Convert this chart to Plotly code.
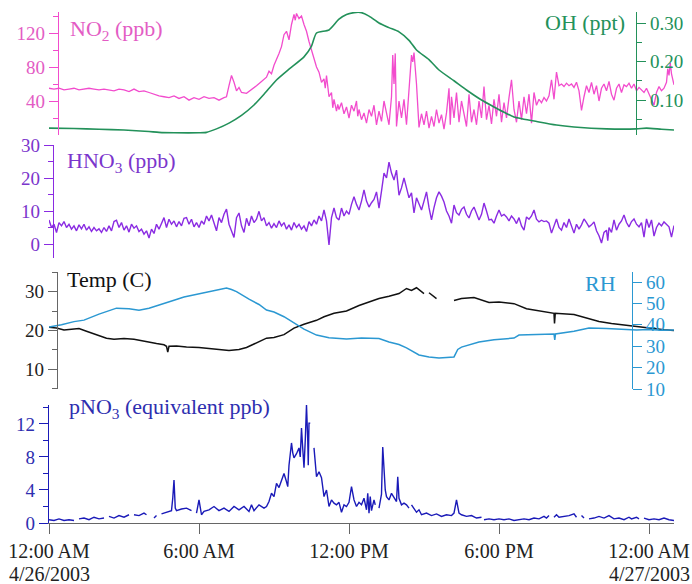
import plotly.graph_objects as go

# ---------------------------------------------------------------------------
# Measurements, 26 Apr 2003 00:00 to 27 Apr 2003 01:00 (x in hours since midnight)
# ---------------------------------------------------------------------------
no2_hours = [0.0, 0.2, 0.4, 0.6, 0.8, 1.0, 1.2, 1.4, 1.6, 1.8, 2.0, 2.2, 2.4, 2.6, 2.8, 3.0,
             3.2, 3.4, 3.6, 3.8, 4.0, 4.2, 4.4, 4.6, 4.8, 5.0, 5.2, 5.4, 5.6, 5.8, 6.0, 6.2,
             6.4, 6.6, 6.8, 7.0, 7.1, 7.2, 7.3, 7.4, 7.5, 7.6, 7.7, 7.9, 8.1, 8.3, 8.5, 8.7,
             8.8, 8.9, 9.0, 9.1, 9.2, 9.3, 9.4, 9.5, 9.6, 9.7, 9.8, 9.85, 9.9, 10.0, 10.1,
             10.2, 10.3, 10.4, 10.5, 10.6, 10.7, 10.8, 10.9, 11.0, 11.05, 11.1, 11.2, 11.3,
             11.35, 11.4, 11.5, 11.55, 11.6, 11.7, 11.8, 11.9, 12.0, 12.1, 12.2, 12.3, 12.35,
             12.4, 12.5, 12.6, 12.7, 12.8, 12.9, 13.0, 13.1, 13.2, 13.3, 13.4, 13.5, 13.6,
             13.7, 13.75, 13.8, 13.85, 13.9, 14.0, 14.1, 14.2, 14.3, 14.4, 14.5, 14.55, 14.6,
             14.7, 14.8, 14.9, 15.0, 15.1, 15.2, 15.3, 15.4, 15.5, 15.6, 15.7, 15.8, 15.9,
             16.0, 16.05, 16.1, 16.2, 16.3, 16.4, 16.5, 16.6, 16.7, 16.8, 16.9, 17.0, 17.1,
             17.2, 17.3, 17.4, 17.5, 17.6, 17.7, 17.8, 17.9, 18.0, 18.1, 18.2, 18.3, 18.4,
             18.5, 18.6, 18.7, 18.8, 18.9, 19.0, 19.1, 19.2, 19.3, 19.4, 19.5, 19.6, 19.7,
             19.8, 19.9, 20.0, 20.1, 20.2, 20.3, 20.4, 20.5, 20.6, 20.7, 20.8, 20.9, 21.0,
             21.1, 21.2, 21.3, 21.4, 21.5, 21.6, 21.7, 21.8, 21.9, 22.0, 22.1, 22.2, 22.3,
             22.4, 22.5, 22.6, 22.7, 22.8, 22.9, 23.0, 23.1, 23.2, 23.3, 23.4, 23.5, 23.6,
             23.7, 23.8, 23.9, 24.0, 24.1, 24.2, 24.3, 24.4, 24.5, 24.6, 24.7, 24.75, 24.8,
             24.85, 24.9, 24.95, 25.0]
no2_ppb = [55, 54, 55, 53, 54, 55, 53, 54, 55, 54, 53, 54, 53, 52, 54, 53,
           51, 54, 51, 52, 50, 48, 46, 45, 44, 46, 43, 45, 41, 44, 42, 45,
           43, 44, 41, 44, 45, 58, 70, 62, 52, 56, 50, 49, 53, 58, 63, 68,
           75, 72, 82, 88, 96, 104, 118, 122, 112, 130, 142, 135, 143, 137, 140,
           130, 122, 110, 100, 88, 80, 74, 62, 66, 55, 70, 45, 50,
           32, 42, 28, 36, 30, 38, 25, 33, 20, 35, 28, 40, 22,
           30, 18, 26, 14, 30, 22, 35, 12, 28, 16, 40, 24, 12,
           45, 94, 60, 96, 10, 40, 20, 42, 12, 60, 94, 86, 97,
           60, 9, 25, 12, 28, 8, 22, 10, 30, 14, 24, 7, 26,
           55, 12, 45, 20, 50, 15, 40, 25, 10, 48, 15, 30, 12,
           40, 20, 57, 18, 35, 13, 42, 22, 48, 15, 38, 20, 44,
           65, 30, 15, 40, 18, 45, 25, 48, 14, 50, 35, 42, 38,
           44, 40, 46, 65, 42, 74, 58, 60, 57, 61, 58, 60, 56,
           62, 52, 29, 45, 58, 50, 62, 48, 58, 40, 55, 60, 52,
           63, 48, 41, 55, 60, 50, 59, 57, 61, 55, 60, 52, 56,
           53, 50, 55, 48, 42, 35, 50, 57, 52, 55, 62, 78, 70,
           85, 72, 65, 59]

oh_hours = [0.0, 1.0, 2.0, 3.0, 4.0, 4.4, 5.0, 6.0, 6.3, 6.7, 7.2, 7.7, 8.2, 8.6, 9.1, 9.6,
            10.2, 10.5, 10.7, 11.2, 11.6, 11.9, 12.2, 12.5, 12.8, 13.2, 13.6, 14.0, 14.4,
            14.7, 15.2, 15.6, 16.2, 16.7, 17.3, 17.8, 18.3, 18.6, 19.6, 20.3, 21.0, 22.3,
            23.5, 23.9, 24.5, 25.0]
oh_ppt = [0.027, 0.026, 0.024, 0.022, 0.018, 0.016, 0.015, 0.015, 0.016, 0.025, 0.040,
          0.060, 0.087, 0.115, 0.152, 0.180, 0.212, 0.240, 0.274, 0.282, 0.310, 0.322,
          0.327, 0.327, 0.318, 0.300, 0.288, 0.277, 0.255, 0.230, 0.205, 0.178, 0.150,
          0.126, 0.100, 0.082, 0.065, 0.056, 0.043, 0.035, 0.030, 0.025, 0.025, 0.027,
          0.024, 0.022]

hno3_hours = [0.0, 0.1, 0.2, 0.3, 0.4, 0.5, 0.6, 0.7, 0.8, 0.9, 1.0, 1.1, 1.2, 1.3, 1.4,
              1.5, 1.6, 1.7, 1.8, 1.9, 2.0, 2.1, 2.2, 2.3, 2.4, 2.5, 2.6, 2.7, 2.8, 2.9,
              3.0, 3.1, 3.2, 3.3, 3.4, 3.5, 3.6, 3.7, 3.8, 3.9, 4.0, 4.1, 4.2, 4.3, 4.4,
              4.5, 4.6, 4.7, 4.8, 4.9, 5.0, 5.1, 5.2, 5.3, 5.4, 5.5, 5.6, 5.7, 5.8, 5.9,
              6.0, 6.1, 6.2, 6.3, 6.4, 6.5, 6.6, 6.7, 6.8, 6.9, 7.0, 7.1, 7.2, 7.3, 7.4,
              7.5, 7.6, 7.7, 7.8, 7.9, 8.0, 8.1, 8.2, 8.3, 8.4, 8.5, 8.6, 8.7, 8.8, 8.9,
              9.0, 9.1, 9.2, 9.3, 9.4, 9.5, 9.6, 9.7, 9.8, 9.9, 10.0, 10.1, 10.2, 10.3,
              10.4, 10.5, 10.6, 10.7, 10.8, 10.9, 11.0, 11.1, 11.2, 11.3, 11.4, 11.5,
              11.6, 11.7, 11.8, 11.9, 12.0, 12.1, 12.2, 12.3, 12.4, 12.5, 12.6, 12.7,
              12.8, 12.9, 13.0, 13.1, 13.2, 13.3, 13.4, 13.5, 13.6, 13.7, 13.8, 13.9,
              14.0, 14.1, 14.2, 14.3, 14.4, 14.5, 14.6, 14.7, 14.8, 14.9, 15.0, 15.1,
              15.2, 15.3, 15.4, 15.5, 15.6, 15.7, 15.8, 15.9, 16.0, 16.1, 16.2, 16.3,
              16.4, 16.5, 16.6, 16.7, 16.8, 16.9, 17.0, 17.1, 17.2, 17.3, 17.4, 17.5,
              17.6, 17.7, 17.8, 17.9, 18.0, 18.1, 18.2, 18.3, 18.4, 18.5, 18.6, 18.7,
              18.8, 18.9, 19.0, 19.1, 19.2, 19.3, 19.4, 19.5, 19.6, 19.7, 19.8, 19.9,
              20.0, 20.1, 20.2, 20.3, 20.4, 20.5, 20.6, 20.7, 20.8, 20.9, 21.0, 21.1,
              21.2, 21.3, 21.4, 21.5, 21.6, 21.7, 21.8, 21.9, 22.0, 22.1, 22.2, 22.3,
              22.35, 22.4, 22.5, 22.6, 22.7, 22.8, 22.9, 23.0, 23.1, 23.2, 23.3, 23.4,
              23.5, 23.6, 23.7, 23.8, 23.9, 24.0, 24.1, 24.2, 24.3, 24.4, 24.5, 24.6,
              24.7, 24.8, 24.9, 25.0]
hno3_ppb = [7.3, 5.0, 6.0, 3.5, 6.5, 5.5, 6.8, 5.0, 6.0, 4.5, 5.5, 4.0, 5.8, 4.6, 6.0,
            4.2, 5.2, 3.8, 5.0, 4.0, 4.6, 3.5, 5.0, 3.8, 5.5, 4.0, 6.8, 7.2, 5.0, 6.5,
            4.2, 5.5, 3.6, 6.0, 4.8, 5.5, 3.8, 4.5, 3.0, 4.0, 1.8, 4.5, 3.2, 6.0, 4.5,
            6.5, 8.0, 5.0, 7.5, 6.0, 7.0, 5.2, 6.8, 5.5, 7.8, 8.0, 6.0, 7.5, 5.2, 6.5,
            5.0, 7.0, 6.0, 8.5, 7.0, 8.8, 6.0, 4.0, 8.0, 6.5, 9.0, 10.6, 6.0, 4.0, 2.0,
            8.0, 9.4, 5.5, 3.5, 7.8, 5.5, 8.5, 6.5, 7.5, 9.9, 7.0, 8.0, 5.5, 6.5, 4.8,
            6.2, 5.0, 7.0, 5.5, 6.5, 4.5, 5.8, 4.2, 6.5, 5.0, 6.0, 4.5, 5.5, 3.8,
            6.8, 5.5, 7.3, 6.0, 8.5, 7.0, 10.3, 7.0, -0.3, 8.0, 10.9, 8.0,
            7.3, 10.9, 8.5, 10.0, 9.0, 12.0, 14.3, 12.0, 10.3, 13.0, 16.4, 13.0,
            11.2, 12.5, 13.5, 15.8, 10.9, 16.0, 21.5, 20.0, 24.8, 21.5, 19.4, 22.4,
            14.8, 17.0, 20.0, 17.0, 14.0, 15.5, 9.4, 14.0, 12.0, 10.3, 13.0, 15.8,
            11.0, 7.3, 11.0, 14.0, 15.8, 14.5, 12.7, 10.0, 8.5, 6.3, 11.8, 9.5,
            8.8, 10.5, 11.2, 9.0, 7.9, 10.0, 11.2, 9.0, 7.3, 9.0, 12.4, 10.0,
            7.3, 7.5, 6.3, 8.5, 10.3, 8.5, 9.0, 8.2, 7.0, 8.5, 7.6, 6.2,
            8.0, 5.5, 4.2, 8.2, 7.5, 8.5, 10.3, 7.5, 6.7, 7.2, 6.8, 7.0,
            6.3, 3.3, 5.5, 7.6, 5.0, 4.2, 6.5, 5.0, 7.6, 5.5, 3.3, 6.0,
            4.5, 5.8, 7.6, 6.5, 5.2, 5.8, 6.7, 4.0, 2.5, 0.3, 3.5, 4.2,
            1.0, 5.0, 3.5, 7.3, 4.2, 6.0, 7.0, 8.8, 6.5, 5.2, 6.8, 7.6,
            6.0, 5.2, 6.5, 2.1, 7.6, 5.0, 7.3, 2.4, 5.0, 6.3, 5.5, 6.7,
            5.8, 5.2, 2.1, 5.6]

# Temperature (C); None marks gaps in the record
temp_hours = [0.0, 0.3, 0.6, 0.9, 1.2, 1.5, 1.8, 2.0, 2.3, 2.6, 3.0, 3.4, 3.7, 4.0, 4.3,
              4.6, 4.7, 4.75, 4.8, 5.1, 5.5, 6.0, 6.4, 6.8, 7.2, 7.6, 7.9, 8.2, 8.5, 8.7,
              9.0, 9.4, 9.8, 10.2, 10.7, 11.0, 11.4, 11.9, 12.4, 12.8, 13.2, 13.6, 14.0,
              14.3, 14.5, 14.7, 14.85, 15.0, 15.1, 15.2, 15.5, 15.8, 16.2, 16.5, 17.0,
              17.3, 17.6, 18.0, 18.6, 19.1, 19.6, 20.2, 20.22, 20.25, 21.0, 21.5, 22.0,
              22.5, 23.1, 23.6, 24.2, 24.6, 25.0]
temp_c = [20.8, 20.6, 20.1, 20.3, 20.5, 19.8, 19.2, 18.7, 18.0, 17.7, 17.9, 17.7, 17.3,
          17.0, 16.6, 16.3, 15.9, 14.4, 15.9, 16.0, 15.7, 15.6, 15.3, 15.0, 14.8, 15.1,
          15.6, 16.5, 17.5, 18.0, 18.2, 18.9, 20.6, 21.6, 22.6, 23.5, 24.4, 25.0, 26.4,
          27.3, 28.2, 28.8, 29.5, 30.8, 30.3, 31.0, 30.2, 29.5, None, 29.7, 28.2, None,
          27.7, 28.2, 28.5, 27.8, 27.2, 27.3, 26.9, 25.6, 25.0, 24.4, 21.8, 24.4, 24.1,
          23.2, 22.3, 21.8, 21.3, 21.0, 20.5, 20.2, 20.0]

rh_hours = [0.0, 0.5, 1.0, 1.4, 2.0, 2.7, 3.2, 3.6, 4.0, 4.5, 5.0, 5.4, 5.8, 6.3, 6.7,
            7.1, 7.3, 7.5, 8.0, 8.4, 8.7, 9.0, 9.4, 9.8, 10.2, 10.7, 11.2, 11.9, 12.5,
            13.2, 13.6, 14.0, 14.3, 14.8, 15.2, 15.6, 16.0, 16.2, 16.35, 16.5, 17.2,
            17.8, 18.6, 18.8, 19.5, 20.2, 20.23, 20.26, 21.0, 21.6, 22.3, 23.0, 23.5,
            24.0, 24.5, 25.0]
rh_pct = [39.0, 40.0, 41.5, 42.2, 45.0, 47.8, 47.5, 46.8, 47.8, 49.5, 51.5, 53.0, 54.0,
          54.9, 56.2, 57.2, 56.5, 55.5, 52.0, 49.5, 46.9, 46.0, 43.8, 40.8, 38.0, 35.2,
          34.0, 33.4, 33.8, 33.6, 32.0, 30.8, 29.2, 25.9, 25.0, 24.5, 24.7, 25.0, 28.5,
          29.6, 32.0, 33.0, 33.8, 35.2, 35.5, 35.7, 32.9, 35.7, 37.0, 38.5, 38.3, 38.0,
          37.6, 37.8, 37.5, 37.6]

# Particulate nitrate (equivalent ppb); None marks gaps in the record
pno3_hours = [0.0, 0.2, 0.4, 0.6, 0.8, 1.0, 1.1, 1.2, 1.4, 1.6, 1.8, 2.0, 2.2, 2.3, 2.4,
              2.6, 2.8, 3.0, 3.2, 3.3, 3.4, 3.6, 3.8, 3.9, 4.05, 4.2, 4.3, 4.4, 4.5, 4.7,
              4.9, 4.95, 5.0, 5.05, 5.1, 5.3, 5.5, 5.7, 5.8, 5.9, 6.0, 6.1, 6.2, 6.4, 6.6,
              6.8, 7.0, 7.2, 7.4, 7.6, 7.8, 8.0, 8.1, 8.2, 8.4, 8.6, 8.7, 8.8, 8.9, 9.0,
              9.1, 9.2, 9.3, 9.4, 9.5, 9.55, 9.6, 9.7, 9.75, 9.8, 9.9, 10.0, 10.05, 10.1,
              10.15, 10.2, 10.25, 10.3, 10.35, 10.37, 10.4, 10.45, 10.52, 10.6, 10.7,
              10.8, 10.9, 11.0, 11.1, 11.2, 11.3, 11.4, 11.5, 11.6, 11.7, 11.8, 11.9,
              12.0, 12.1, 12.2, 12.3, 12.4, 12.5, 12.6, 12.7, 12.75, 12.8, 12.85, 12.9,
              13.0, 13.05, 13.12, 13.2, 13.3, 13.35, 13.45, 13.5, 13.6, 13.7, 13.8,
              13.9, 13.95, 14.0, 14.1, 14.2, 14.3, 14.4, 14.45, 14.5, 14.6, 14.7, 14.8,
              14.9, 15.1, 15.3, 15.5, 15.7, 15.9, 16.1, 16.2, 16.3, 16.4, 16.5, 16.7,
              16.9, 17.1, 17.3, 17.35, 17.4, 17.6, 17.8, 18.0, 18.2, 18.4, 18.6, 18.8,
              19.0, 19.2, 19.4, 19.6, 19.8, 19.9, 20.0, 20.1, 20.2, 20.3, 20.4, 20.6,
              20.8, 21.0, 21.1, 21.2, 21.3, 21.4, 21.5, 21.6, 21.8, 22.0, 22.2, 22.4,
              22.5, 22.6, 22.8, 23.0, 23.2, 23.3, 23.5, 23.6, 23.7, 23.8, 24.0, 24.2,
              24.4, 24.6, 24.8, 25.0]
pno3_ppb = [0.4, 0.3, 0.5, 0.3, 0.4, 0.3, None, 0.5, 0.6, 0.4, 0.7, 0.5, 0.6, None, 0.8,
            0.6, 0.9, 0.7, 1.0, None, 1.0, 0.9, 1.2, 1.0, None, 0.6, 0.9, None, 1.1, 1.3,
            1.5, 3.0, 5.2, 1.8, 1.5, 1.7, 1.8, 1.5, None, 1.2, 2.8, 1.0, 1.4, 1.6, 2.0,
            1.5, 1.8, 1.4, 2.0, 1.6, 2.0, 1.4, 2.2, 1.5, 2.2, 1.8, 2.0, 2.6, 3.6, 3.2,
            4.8, 4.3, 5.2, 6.0, 5.0, 4.4, 7.0, 9.7, 8.5, 7.9, 8.4, 9.1, 8.0, 11.5,
            9.0, 6.7, 10.0, 14.3, 10.0, 7.0, 12.1, 12.1, None, 9.1, 5.6,
            6.2, 5.5, 3.2, 4.0, 2.0, 2.8, 2.4, 2.2, 2.5, 1.3, 2.2, 2.0,
            2.5, 4.4, 2.8, 2.0, 2.5, 2.2, 3.0, 1.6, 3.6, 1.2, 3.2, 1.5,
            2.8, 2.2, None, 1.8, 3.5, 9.2, 4.0, 3.2, 2.8, 3.6, 3.0,
            2.6, 5.6, 3.0, 2.2, 2.4, 2.2, 1.8, None, 2.2, 1.8, 1.3, 1.6,
            1.0, 1.2, 0.9, 1.1, 0.8, 1.0, 0.9, 1.2, 2.8, 1.2, 1.0, 0.8,
            0.9, 0.6, 0.7, None, 0.4, 0.5, 0.4, 0.5, 0.4, 0.5, 0.3, 0.4,
            0.5, 0.4, 0.6, 0.5, 0.8, 0.6, 0.9, None, 0.7, 1.0, 0.7, 0.8,
            0.9, 1.1, 0.7, None, 0.9, 0.6, None, 0.5, 0.6, 0.8, 0.6, 0.9,
            0.7, 0.5, 0.6, 0.4, 0.7, 0.5, 0.7, 0.5, None, 0.6, 0.4, 0.5,
            0.4, 0.6, 0.4, 0.3]

# Shared time axis labels (dates go on a second line under the midnight ticks)
time_tickvals = [0, 6, 12, 18, 24]
time_ticktext = ["12:00 AM", "6:00 AM", "12:00 PM", "6:00 PM", "12:00 AM"]
date_hours = [0, 24]
date_text = ["4/26/2003", "4/27/2003"]

# ---------------------------------------------------------------------------
W, H = 692, 584
FONT = "Liberation Serif"


def fx(p):
    """Horizontal pixel -> paper fraction."""
    return p / W


def fy(p):
    """Vertical pixel (from top) -> paper fraction."""
    return 1 - p / H


C_NO2, C_NO2_TXT = "#f24ccd", "#e35cc4"
C_OH = "#23915a"
C_HNO3, C_HNO3_TXT = "#8a2be2", "#7b35cc"
C_TEMP = "#111111"
C_RH = "#2b98d2"
C_PNO3, C_PNO3_TXT = "#1a1ab8", "#2e2eb0"
C_AX = "#666666"

fig = go.Figure()
fig.add_trace(go.Scatter(x=no2_hours, y=no2_ppb, mode="lines", xaxis="x", yaxis="y",
                         line=dict(color=C_NO2, width=1.3)))
fig.add_trace(go.Scatter(x=oh_hours, y=oh_ppt, mode="lines", xaxis="x", yaxis="y2",
                         line=dict(color=C_OH, width=1.6, shape="spline", smoothing=0.6)))
fig.add_trace(go.Scatter(x=hno3_hours, y=hno3_ppb, mode="lines", xaxis="x", yaxis="y3",
                         line=dict(color=C_HNO3, width=1.4)))
fig.add_trace(go.Scatter(x=temp_hours, y=temp_c, mode="lines", xaxis="x", yaxis="y4",
                         line=dict(color=C_TEMP, width=1.5)))
fig.add_trace(go.Scatter(x=rh_hours, y=rh_pct, mode="lines", xaxis="x", yaxis="y5",
                         line=dict(color=C_RH, width=1.5)))
fig.add_trace(go.Scatter(x=pno3_hours, y=pno3_ppb, mode="lines", xaxis="x", yaxis="y6",
                         line=dict(color=C_PNO3, width=1.4)))


def yax(color, txtcolor, domain=None, rng=None, tickvals=None, ticktext=None,
        minor_vals=None, **kw):
    d = dict(range=rng, tickvals=tickvals, ticktext=ticktext, automargin=False,
             showgrid=False, zeroline=False, showline=True, linecolor=color,
             linewidth=1.2, ticks="outside", ticklen=9, tickwidth=1.2,
             tickcolor=color, tickfont=dict(family=FONT, size=19, color=txtcolor))
    if domain is not None:
        d["domain"] = domain
    if minor_vals:
        d["minor"] = dict(tickvals=minor_vals, ticks="outside", ticklen=5,
                          tickwidth=1.2, tickcolor=color, showgrid=False)
    d.update(kw)
    return d


fig.update_layout(
    width=W, height=H, autosize=False,
    margin=dict(l=0, r=0, t=0, b=0, pad=0, autoexpand=False),
    paper_bgcolor="white", plot_bgcolor="rgba(0,0,0,0)",
    showlegend=False,
    font=dict(family=FONT),
    xaxis=dict(domain=[fx(49), fx(674)], range=[0, 25], anchor="y6", automargin=False,
               tickvals=time_tickvals, ticktext=time_ticktext,
               showgrid=False, zeroline=False, showline=True, linecolor=C_AX,
               linewidth=1.3, ticks="outside", ticklen=10, tickwidth=1.3,
               tickcolor=C_AX, tickfont=dict(family=FONT, size=20, color="#222222")),
    yaxis=yax(C_NO2, C_NO2_TXT, domain=[fy(135), fy(12)], rng=[0, 144.7],
              tickvals=[40, 80, 120], minor_vals=[20, 60, 100, 140],
              anchor="free", position=fx(58)),
    yaxis2=yax(C_OH, C_OH, rng=[0.0091, 0.3286],
               tickvals=[0.10, 0.20, 0.30], ticktext=["0.10", "0.20", "0.30"],
               minor_vals=[0.05, 0.15, 0.25],
               overlaying="y", side="right", anchor="free", position=fx(636)),
    yaxis3=yax(C_HNO3, C_HNO3_TXT, domain=[fy(258), fy(145)], rng=[-4.24, 30],
               tickvals=[0, 10, 20, 30], minor_vals=[5, 15, 25],
               anchor="free", position=fx(53)),
    yaxis4=yax(C_AX, "#222222", domain=[fy(389), fy(272)], rng=[4.9, 35.05],
               tickvals=[10, 20, 30], minor_vals=[5, 15, 25, 35],
               anchor="free", position=fx(57)),
    yaxis5=yax(C_RH, C_RH, rng=[10, 64.7], tickvals=[10, 20, 30, 40, 50, 60],
               overlaying="y4", side="right", anchor="free", position=fx(632)),
    yaxis6=yax(C_PNO3, C_PNO3_TXT, domain=[fy(523), fy(405)], rng=[0, 14.3],
               tickvals=[0, 4, 8, 12], minor_vals=[2, 6, 10, 14], anchor="x"),
)

# Date line under the midnight ticks
for h, txt in zip(date_hours, date_text):
    fig.add_annotation(text=txt, x=h, xref="x", y=fy(574), yref="paper",
                       xanchor="center", yanchor="middle", showarrow=False,
                       font=dict(family=FONT, size=20, color="#222222"))

# Panel titles
titles = [
    ("NO<sub>2</sub> (ppb)", 68, 30, "left", C_NO2_TXT),
    ("OH (ppt)", 627, 23, "right", C_OH),
    ("HNO<sub>3</sub> (ppb)", 65, 162, "left", C_HNO3_TXT),
    ("Temp (C)", 65, 280, "left", "#111111"),
    ("RH", 618, 283, "right", C_RH),
    ("pNO<sub>3</sub> (equivalent ppb)", 67, 408, "left", C_PNO3_TXT),
]
for text, x, y, anchor, color in titles:
    fig.add_annotation(text=text, x=fx(x), y=fy(y), xref="paper", yref="paper",
                       xanchor=anchor, yanchor="middle", showarrow=False,
                       font=dict(family=FONT, size=22, color=color))

fig.write_html("out.html")
